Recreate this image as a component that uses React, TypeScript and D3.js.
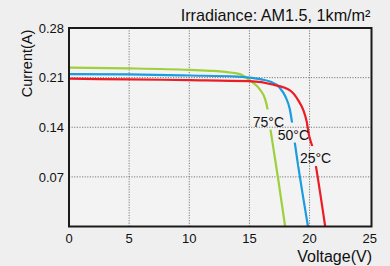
import React from 'react';
import * as d3 from 'd3';

// I-V curves: [voltage V, current A]
const curve75 = [
  [0, 0.224], [5, 0.223], [10, 0.221], [12, 0.2195], [13, 0.218], [14.2, 0.215],
  [15.05, 0.206], [15.88, 0.193], [16.3, 0.18], [16.5, 0.166],
  [16.75, 0.137], [17.4, 0.066], [17.97, 0],
];
const curve50 = [
  [0, 0.215], [5, 0.2145], [10, 0.213], [14, 0.2115], [15, 0.21], [16, 0.2075],
  [16.7, 0.2045], [17.5, 0.196], [18, 0.183], [18.35, 0.166], [18.56, 0.145],
  [18.8, 0.115], [19.87, 0],
];
const curve25 = [
  [0, 0.2085], [5, 0.2075], [10, 0.2065], [15, 0.205], [17, 0.2], [18.37, 0.192],
  [19.06, 0.178], [19.48, 0.164], [19.76, 0.148], [19.95, 0.129], [20.3, 0.108],
  [20.55, 0.083], [21.3, 0],
];

const seriesNames = ['75°C', '50°C', '25°C'];
const seriesColors = ['#9fcf3c', '#1a9ce0', '#ec1c24'];
// where each temperature label sits, in data units
const labelV = [15.28, 17.36, 19.2];
const labelI = [0.141, 0.1226, 0.0895];

const xTicks = [0, 5, 10, 15, 20, 25];
const yTicks = [0.07, 0.14, 0.21, 0.28];

const W = 390;
const H = 266;

export default function App() {
  const x = d3.scaleLinear().domain([0, 25.15]).range([69, 371.5]);
  const y = d3.scaleLinear().domain([0, 0.28]).range([226.5, 28]);
  const line = d3
    .line<number[]>()
    .x((d) => x(d[0]))
    .y((d) => y(d[1]))
    .curve(d3.curveMonotoneX);

  const curves = [curve75, curve50, curve25];
  const font = 'Liberation Sans, Arial, Helvetica, sans-serif';

  return (
    <div style={{ position: 'fixed', left: 0, top: 0 }}>
      <svg width={W} height={H} style={{ display: 'block', background: '#efefef' }} fontFamily={font}>
        <defs>
          <mask id="gaps">
            <rect x={0} y={0} width={W} height={H} fill="white" />
            {seriesNames.map((n, i) => (
              <rect key={n} x={x(labelV[i]) - 1} y={y(labelI[i]) - 17} width={29} height={20} fill="black" />
            ))}
          </mask>
        </defs>
        <rect x={x(0)} y={y(0.28)} width={x(25.15) - x(0)} height={y(0) - y(0.28)} fill="#f3f3f3" />

        {/* grid */}
        {xTicks.slice(1, -1).map((t) => (
          <line key={'gx' + t} x1={x(t)} x2={x(t)} y1={y(0)} y2={y(0.28)}
            stroke="#7a7a7a" strokeWidth={1} strokeDasharray="1.2,1.4" />
        ))}
        {yTicks.slice(0, -1).map((t) => (
          <line key={'gy' + t} x1={x(0)} x2={x(25.15)} y1={y(t)} y2={y(t)}
            stroke="#7a7a7a" strokeWidth={1} strokeDasharray="1.2,1.4" />
        ))}

        {/* curves */}
        <g mask="url(#gaps)">
          {curves.map((c, i) => (
            <path key={seriesNames[i]} d={line(c) || ''} fill="none" stroke={seriesColors[i]} strokeWidth={2.2} />
          ))}
        </g>
        {seriesNames.map((n, i) => (
          <text key={'l' + n} x={x(labelV[i])} y={y(labelI[i])} fontSize={14} fill="#111">{n}</text>
        ))}

        {/* frame */}
        <rect x={x(0)} y={y(0.28)} width={x(25.15) - x(0)} height={y(0) - y(0.28)}
          fill="none" stroke="#1a1a1a" strokeWidth={2} />

        {/* ticks */}
        {xTicks.map((t) => (
          <text key={'tx' + t} x={x(t)} y={243} textAnchor="middle" fontSize={13} fill="#111">{t}</text>
        ))}
        {yTicks.map((t) => (
          <text key={'ty' + t} x={64} y={y(t)} dy="0.36em" textAnchor="end" fontSize={13} fill="#111">{t.toFixed(2)}</text>
        ))}

        <text x={370.5} y={21} textAnchor="end" fontSize={16.2} fill="#111">Irradiance: AM1.5, 1km/m²</text>
        <text x={372} y={262} textAnchor="end" fontSize={16} fill="#111">Voltage(V)</text>
        <text transform="translate(32,63.5) rotate(-90)" textAnchor="middle" fontSize={14.5} fill="#111">Current(A)</text>
      </svg>
    </div>
  );
}
